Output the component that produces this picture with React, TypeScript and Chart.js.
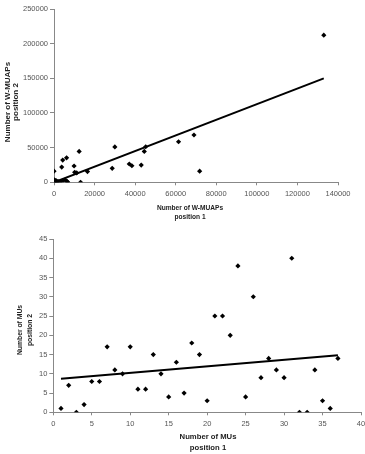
import { useEffect, useRef } from "react";
import { Chart, registerables } from "chart.js";

Chart.register(...registerables);

// W-MUAP counts, position 1 vs position 2
const wmuapPos1 = [
  0, 200, 300, 600, 1000, 1500, 2000, 2800, 3500, 4500, 5500, 6500, 6800,
  3800, 4300, 6200, 9900, 10200, 11200, 12400, 13100, 16500, 28700, 30000,
  37100, 38400, 43000, 44500, 45200, 61400, 69000, 71800, 133000,
];
const wmuapPos2 = [
  16000, 3500, 1500, 0, 2500, 500, 1000, 0, 1500, 2500, 3500, 1000, 0,
  22000, 32000, 35300, 23500, 14400, 13500, 44500, 0, 15500, 20200, 51000,
  26400, 23900, 24900, 44600, 51300, 58500, 68200, 16000, 212200,
];
const wmuapTrendX = [0, 133000];
const wmuapTrendY = [0, 150000];
const wmuapXRange = [0, 140000, 20000];
const wmuapYRange = [0, 250000, 50000];

// MU counts, position 1 vs position 2
const muPos1 = [
  1, 2, 3, 4, 5, 6, 7, 8, 9, 10, 11, 12, 13, 14, 15, 16, 17, 18, 19, 20, 21,
  22, 23, 24, 25, 26, 27, 28, 29, 30, 31, 32, 33, 34, 35, 36, 37,
];
const muPos2 = [
  1, 7, 0, 2, 8, 8, 17, 11, 10, 17, 6, 6, 15, 10, 4, 13, 5, 18, 15, 3, 25,
  25, 20, 38, 4, 30, 9, 14, 11, 9, 40, 0, 0, 11, 3, 1, 14,
];
const muTrendX = [1, 37];
const muTrendY = [8.7, 14.8];
const muXRange = [0, 40, 5];
const muYRange = [0, 45, 5];

const FONT = '"Liberation Sans", Arial, sans-serif';
const TICK_COLOR = "#555";
const AXIS_COLOR = "#888";

type Caption = {
  lines: string[];
  x: number;
  y: number;
  size: number;
  gap: number;
  rotate?: boolean;
};

// Draws the two-line bold axis captions at fixed spots on the canvas
const captionPlugin = {
  id: "axisCaptions",
  afterDraw(chart: any, _args: any, opts: any) {
    const ctx = chart.ctx as CanvasRenderingContext2D;
    const items: Caption[] = opts.items || [];
    for (const c of items) {
      ctx.save();
      ctx.font = `bold ${c.size}px ${FONT}`;
      ctx.fillStyle = "#222";
      ctx.textAlign = "center";
      ctx.textBaseline = "middle";
      ctx.translate(c.x, c.y);
      if (c.rotate) ctx.rotate(-Math.PI / 2);
      c.lines.forEach((t, i) => ctx.fillText(t, 0, i * c.gap));
      ctx.restore();
    }
  },
};

type PanelProps = {
  height: number;
  xs: number[];
  ys: number[];
  trendX: number[];
  trendY: number[];
  xRange: number[];
  yRange: number[];
  area: { top: number; right: number; yWidth: number; xHeight: number };
  captions: Caption[];
};

const plainNumber = (v: any) => String(v);

function ScatterPanel(p: PanelProps) {
  const ref = useRef<HTMLCanvasElement | null>(null);

  useEffect(() => {
    if (!ref.current) return;
    const points = p.xs.map((x, i) => ({ x, y: p.ys[i] }));
    const trend = p.trendX.map((x, i) => ({ x, y: p.trendY[i] }));
    const tickFont = { family: FONT, size: 7.5 };

    const chart = new Chart(ref.current, {
      type: "scatter",
      data: {
        datasets: [
          {
            data: trend,
            showLine: true,
            borderColor: "#000",
            borderWidth: 2,
            pointRadius: 0,
            order: 2,
          },
          {
            data: points,
            pointStyle: "rectRot",
            pointRadius: 2.6,
            backgroundColor: "#000",
            borderColor: "#000",
            borderWidth: 0,
            order: 1,
          },
        ],
      },
      options: {
        animation: false,
        responsive: false,
        devicePixelRatio: 1,
        layout: {
          padding: { top: p.area.top, right: p.area.right, left: 0, bottom: 0 },
        },
        plugins: {
          legend: { display: false },
          tooltip: { enabled: false },
          axisCaptions: { items: p.captions },
        } as any,
        scales: {
          x: {
            type: "linear",
            min: p.xRange[0],
            max: p.xRange[1],
            ticks: {
              stepSize: p.xRange[2],
              font: tickFont,
              color: TICK_COLOR,
              padding: 4,
              maxRotation: 0,
              autoSkip: false,
              callback: plainNumber,
            },
            grid: {
              drawOnChartArea: false,
              drawTicks: true,
              tickLength: 3,
              color: AXIS_COLOR,
            },
            border: { color: AXIS_COLOR, width: 1 },
            afterFit: (s: any) => {
              s.height = p.area.xHeight;
              s.paddingLeft = 0;
              s.paddingRight = 0;
            },
          },
          y: {
            type: "linear",
            min: p.yRange[0],
            max: p.yRange[1],
            ticks: {
              stepSize: p.yRange[2],
              font: tickFont,
              color: TICK_COLOR,
              padding: 2,
              autoSkip: false,
              callback: plainNumber,
            },
            grid: {
              drawOnChartArea: false,
              drawTicks: true,
              tickLength: 4,
              color: AXIS_COLOR,
            },
            border: { color: AXIS_COLOR, width: 1 },
            afterFit: (s: any) => {
              s.width = p.area.yWidth;
              s.paddingTop = 0;
              s.paddingBottom = 0;
            },
          },
        },
      },
      plugins: [captionPlugin],
    });
    return () => chart.destroy();
  }, []);

  return (
    <canvas
      ref={ref}
      width={365}
      height={p.height}
      style={{ display: "block", width: 365, height: p.height }}
    />
  );
}

export default function App() {
  return (
    <div
      style={{
        position: "absolute",
        left: 0,
        top: 0,
        width: 365,
        height: 454,
        background: "#fff",
      }}
    >
      <ScatterPanel
        height={226}
        xs={wmuapPos1}
        ys={wmuapPos2}
        trendX={wmuapTrendX}
        trendY={wmuapTrendY}
        xRange={wmuapXRange}
        yRange={wmuapYRange}
        area={{ top: 9, right: 27, yWidth: 54, xHeight: 43.7 }}
        captions={[
          { lines: ["Number of W-MUAPs", "position 1"], x: 190, y: 208, size: 6.6, gap: 9 },
          { lines: ["Number of W-MUAPs", "position 2"], x: 7.5, y: 102, size: 8, gap: 8.5, rotate: true },
        ]}
      />
      <ScatterPanel
        height={228}
        xs={muPos1}
        ys={muPos2}
        trendX={muTrendX}
        trendY={muTrendY}
        xRange={muXRange}
        yRange={muYRange}
        area={{ top: 13, right: 3.3, yWidth: 53.3, xHeight: 41.7 }}
        captions={[
          { lines: ["Number of MUs", "position 1"], x: 208, y: 211.3, size: 7.7, gap: 10.4 },
          { lines: ["Number of MUs", "position 2"], x: 20.5, y: 104, size: 6.8, gap: 9.5, rotate: true },
        ]}
      />
    </div>
  );
}
